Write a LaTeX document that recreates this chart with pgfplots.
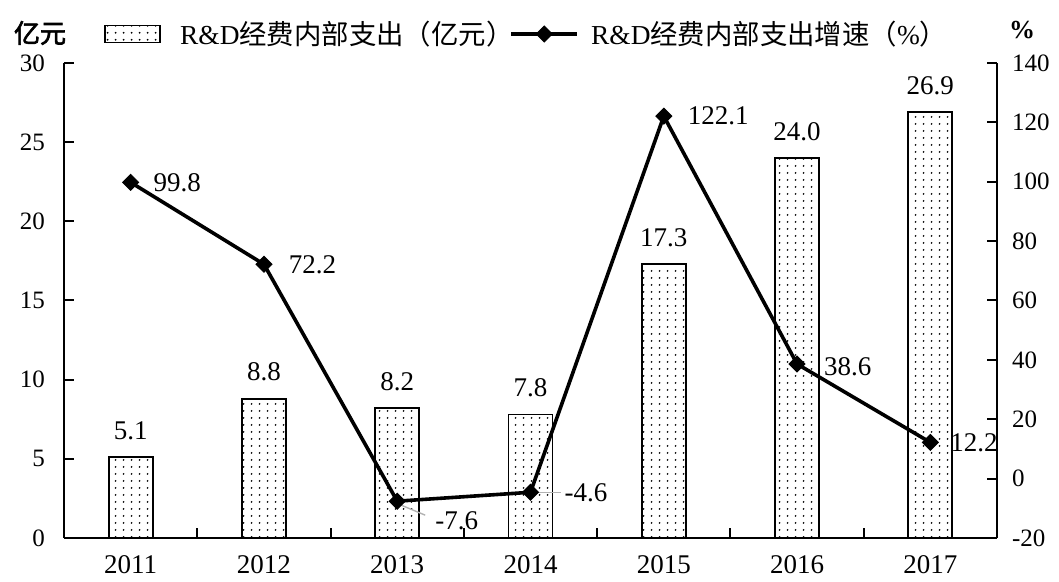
\documentclass[border=0pt]{standalone}
\usepackage{fontspec}
\setmainfont{Liberation Serif}
\newfontfamily\cjk{Noto Sans CJK SC}
\newfontfamily\cjkb[FakeBold=2.5]{Noto Sans CJK SC}
\usepackage{pgfplots}
\pgfplotsset{compat=1.18}
\usetikzlibrary{patterns.meta}
\tikzdeclarepattern{
  name=mydots,
  type=uncolored,
  bottom left={(0pt,0pt)},
  top right={(4pt,3.5pt)},
  tile size={(4pt,3.5pt)},
  code={\fill (2pt,1.75pt) circle (0.55pt);}
}
\pgfplotsset{linelegend/.style={legend image code/.code={\draw[mark repeat=2,mark phase=2,##1] plot coordinates {(0pt,0pt) (16.5pt,0pt) (33pt,0pt)};}}}
\begin{document}
\begin{tikzpicture}[font=\fontsize{13}{15}\selectfont]
\path[use as bounding box] (0pt,0pt) rectangle (529.5pt,291pt);
\begin{axis}[
  at={(32pt,22pt)}, anchor=south west,
  scale only axis, width=466.5pt, height=237.5pt,
  xmin=-0.5, xmax=6.5, ymin=0, ymax=30,
  clip=false,
  axis x line*=bottom, axis y line*=left,
  axis line style={line width=1pt, black},
  tick align=inside,
  every tick/.style={black, line width=1pt},
  major tick length=5pt, minor tick length=5pt,
  xtick={0,1,2,3,4,5,6},
  xticklabels={2011,2012,2013,2014,2015,2016,2017},
  major x tick style={draw=none},
  minor xtick={0.5,1.5,2.5,3.5,4.5,5.5},
  ytick={0,5,10,15,20,25,30},
  /pgf/number format/assume math mode=true,
  yticklabel style={font=\fontsize{12.5}{14}\selectfont, xshift=-6pt},
  xticklabel style={font=\fontsize{13.5}{15}\selectfont, yshift=-5pt},
  nodes near coords,
  point meta=explicit symbolic,
  nodes near coords style={font=\fontsize{13.5}{15}\selectfont, anchor=south, yshift=5pt},
]
\addplot[ybar, bar width=0.33, draw=black, line width=0.9pt, pattern=mydots]
  coordinates {(0,5.1)[5.1] (1,8.8)[8.8] (2,8.2)[8.2] (3,7.8)[7.8] (4,17.3)[17.3] (5,24.0)[24.0] (6,26.9)[26.9]};
\end{axis}
\begin{axis}[
  at={(32pt,22pt)}, anchor=south west,
  scale only axis, width=466.5pt, height=237.5pt,
  xmin=-0.5, xmax=6.5, ymin=-20, ymax=140,
  clip=false,
  axis x line=none, axis y line*=right,
  axis line style={line width=1pt, black},
  tick align=inside,
  every tick/.style={black, line width=1pt},
  major tick length=5pt,
  ytick={-20,0,20,40,60,80,100,120,140},
  /pgf/number format/assume math mode=true,
  yticklabel style={font=\fontsize{12.5}{14}\selectfont, xshift=4pt},
  legend style={at={(0.036,1.061)}, anchor=west, draw=none, fill=none,
    legend columns=2, font=\fontsize{13.7}{15}\selectfont,
    /tikz/every odd column/.append style={column sep=4pt},
    /tikz/every even column/.append style={column sep=-4pt}},
  legend cell align=left,
]
\addlegendimage{legend image code/.code={\draw[pattern=mydots, line width=0.8pt] (0pt,-4.25pt) rectangle (27.5pt,4.25pt); \path (31.5pt,0pt);}}
\addlegendentry{R\&D{\cjk 经费内部支出（亿元）}}
\draw[gray!60, line width=0.7pt] (axis cs:2,-7.6) ++(2pt,-2pt) -- ++(12pt,-5pt);
\draw[gray!60, line width=0.7pt] (axis cs:3,-4.6) ++(3pt,0pt) -- ++(12pt,0pt);
\addplot[black, line width=1.8pt, mark=square*, mark size=2.8pt,
  mark options={rotate=45, solid, line width=0.5pt}, linelegend]
  coordinates {(0,99.8) (1,72.2) (2,-7.6) (3,-4.6) (4,122.1) (5,38.6) (6,12.2)};
\addlegendentry{R\&D{\cjk 经费内部支出增速（}\%{\cjk ）}}
\begin{scope}[every node/.style={anchor=west, font=\fontsize{13.5}{15}\selectfont}]
\node[xshift=8pt] at (axis cs:0,99.8) {99.8};
\node[xshift=9pt] at (axis cs:1,72.2) {72.2};
\node[xshift=15.5pt, yshift=-10pt] at (axis cs:2,-7.6) {-7.6};
\node[xshift=13.5pt] at (axis cs:3,-4.6) {-4.6};
\node[xshift=8.5pt] at (axis cs:4,122.1) {122.1};
\node[xshift=10pt, yshift=-1.5pt] at (axis cs:5,38.6) {38.6};
\node[xshift=6.5pt] at (axis cs:6,12.2) {12.2};
\end{scope}
\end{axis}
\node[font=\fontsize{13}{15}\selectfont\cjkb] at (20pt,274.5pt) {亿元};
\node[font=\fontsize{13}{15}\selectfont\bfseries] at (511pt,276pt) {\%};
\end{tikzpicture}
\end{document}
